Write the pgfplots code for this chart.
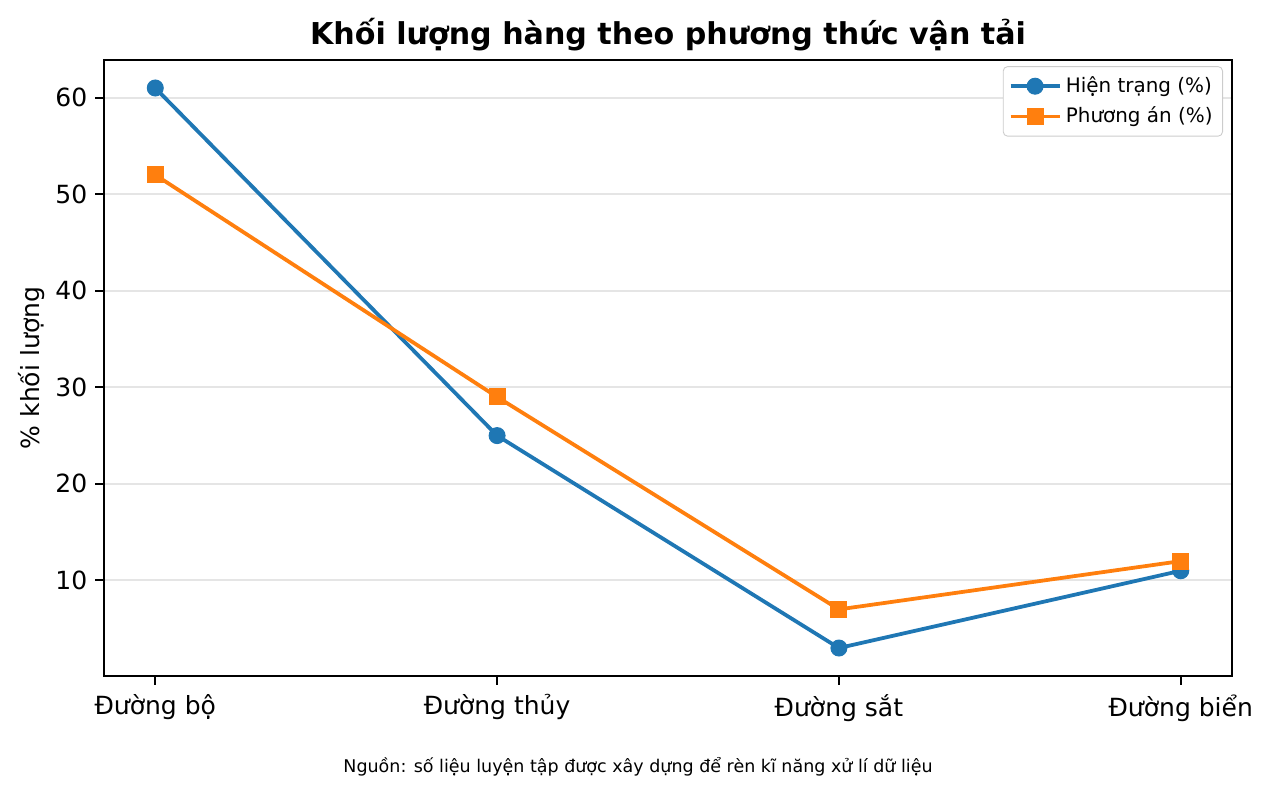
\documentclass[border=0pt]{standalone}
\usepackage{fontspec}
\setmainfont{DejaVu Sans}
\usepackage{pgfplots}
\pgfplotsset{compat=1.18}

\definecolor{mplblue}{HTML}{1F77B4}
\definecolor{mplorange}{HTML}{FF7F0E}

\begin{document}
\begin{tikzpicture}[x=1bp,y=1bp]
% canvas = 1271x795 px at 0.45 bp/px, axis corner at px (104,676)
\path[use as bounding box] (-46.8,-53.55) rectangle (525.15,304.2);

\begin{axis}[
    at={(0,0)}, anchor=south west,
    scale only axis,
    width=507.6bp, height=277.2bp,
    xmin=-0.15, xmax=3.15,
    ymin=0.1, ymax=63.9,
    xtick={0,1,2,3},
    xticklabels={Đường bộ, Đường thủy, Đường sắt, Đường biển},
    ytick={10,20,30,40,50,60},
    xtick pos=bottom, ytick pos=left,
    tick align=outside,
    major tick length=4bp,
    tick style={black, line width=0.9bp},
    axis line style={line width=0.9bp},
    ticklabel style={font=\fontsize{11.3}{13}\selectfont},
    xticklabel style={yshift=-0.8bp},
    /pgf/number format/assume math mode=true,
    ymajorgrids=true,
    grid style={black!10, line width=0.9bp},
    legend style={
        at={(0.992,0.99)}, anchor=north east,
        draw=black!20, rounded corners=2bp,
        font=\fontsize{9}{11}\selectfont,
        inner sep=2.5bp, row sep=1bp,
    },
    legend cell align=left,
    legend image code/.code={
        \draw[mark repeat=2, mark phase=2]
            plot coordinates {(0bp,0bp) (11bp,0bp) (22bp,0bp)};
    },
]

\addplot[mplblue, line width=1.7bp, mark=*, mark size=3.6bp,
    mark options={solid, fill=mplblue, draw=mplblue, line width=0.45bp}] coordinates {
    (0,61) (1,25) (2,3) (3,11) };
\addlegendentry{Hiện trạng (\%)}

\addplot[mplorange, line width=1.7bp, mark=square*, mark size=3.6bp,
    mark options={solid, fill=mplorange, draw=mplorange, line width=0.45bp}] coordinates {
    (0,52) (1,29) (2,7) (3,12) };
\addlegendentry{Phương án (\%)}

\end{axis}

\node[font=\bfseries\fontsize{13.6}{16}\selectfont] at (253.8,288.45) {Khối lượng hàng theo phương thức vận tải};
\node[rotate=90, font=\fontsize{11.3}{13}\selectfont] at (-32.4,138.6) {\% khối lượng};
\node[font=\fontsize{7.9}{9}\selectfont] at (240.3,-40.95) {Nguồn: số liệu luyện tập được xây dựng để rèn kĩ năng xử lí dữ liệu};
\end{tikzpicture}
\end{document}
